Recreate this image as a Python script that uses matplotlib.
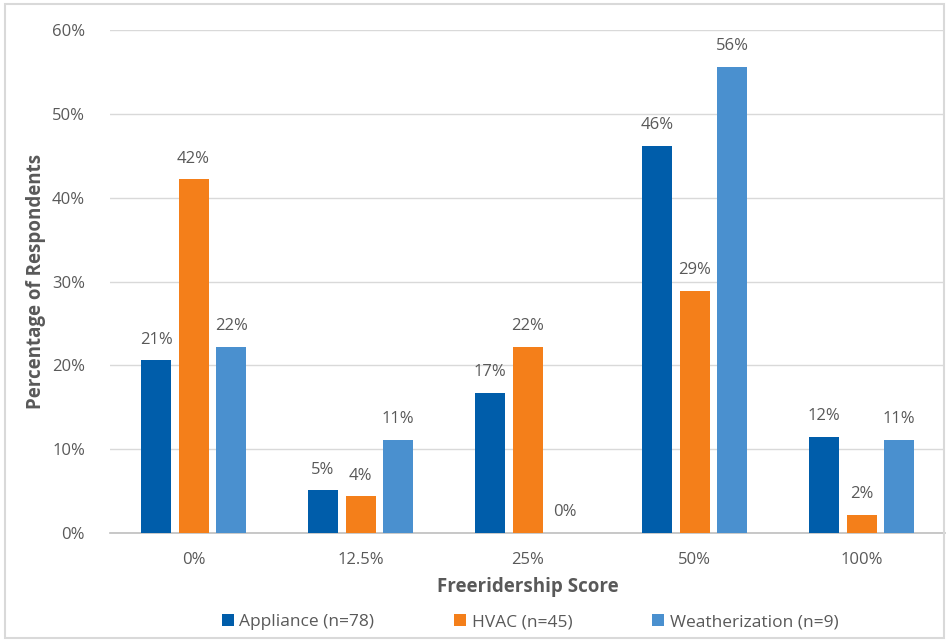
import numpy as np
import matplotlib.pyplot as plt
from matplotlib.patches import Rectangle

categories = ['0%', '12.5%', '25%', '50%', '100%']
series = ['Appliance (n=78)', 'HVAC (n=45)', 'Weatherization (n=9)']
appliance = [20.6, 5.1, 16.7, 46.2, 11.5]
hvac = [42.2, 4.4, 22.2, 28.9, 2.2]
weatherization = [22.2, 11.1, 0.0, 55.6, 11.1]
colors = ['#005DAA', '#F47F1A', '#4A90CF']

plt.rcParams['font.family'] = ['Open Sans', 'DejaVu Sans']
text_color = '#595959'

fig = plt.figure(figsize=(9.49, 6.41), dpi=100)
ax = fig.add_axes([0.116, 0.1685, 0.88, 0.7845])

x = np.arange(len(categories))
width = 0.18
step = 0.225
for i, (vals, name) in enumerate(zip([appliance, hvac, weatherization], series)):
    bars = ax.bar(x + (i - 1) * step, vals, width, color=colors[i], label=name, zorder=3)
    for b, v in zip(bars, vals):
        ax.text(b.get_x() + b.get_width() / 2, v + 1.5, '%d%%' % round(v),
                ha='center', va='bottom', fontsize=12, color=text_color)

ax.set_xlim(-0.5, len(categories) - 0.5)
ax.set_ylim(0, 60)
ax.set_yticks(range(0, 61, 10))
ax.set_yticklabels(['%d%%' % t for t in range(0, 61, 10)])
ax.set_xticks(x)
ax.set_xticklabels(categories)
ax.tick_params(axis='both', length=0, labelsize=12, colors=text_color)
ax.tick_params(axis='x', pad=14)
ax.tick_params(axis='y', pad=18)
ax.grid(axis='y', color='#D9D9D9', linewidth=1, zorder=0)
for s in ['top', 'right', 'left']:
    ax.spines[s].set_visible(False)
ax.spines['bottom'].set_color('#BFBFBF')
ax.spines['bottom'].set_linewidth(1.2)

ax.set_xlabel('Freeridership Score', fontsize=13.5, fontweight='bold', color=text_color, labelpad=6)
ax.set_ylabel('Percentage of Respondents', fontsize=13.5, fontweight='bold', color=text_color, labelpad=4)

ax.legend(loc='upper center', bbox_to_anchor=(0.503, -0.13), ncol=3, frameon=False,
          fontsize=12.5, labelcolor=text_color, handlelength=0.7, handleheight=0.7,
          handletextpad=0.3, columnspacing=4.6)

fig.patches.append(Rectangle((0.005, 0.004), 0.99, 0.99, transform=fig.transFigure,
                             fill=False, edgecolor='#D9D9D9', linewidth=1.5))

fig.savefig('out.png', dpi=100)
